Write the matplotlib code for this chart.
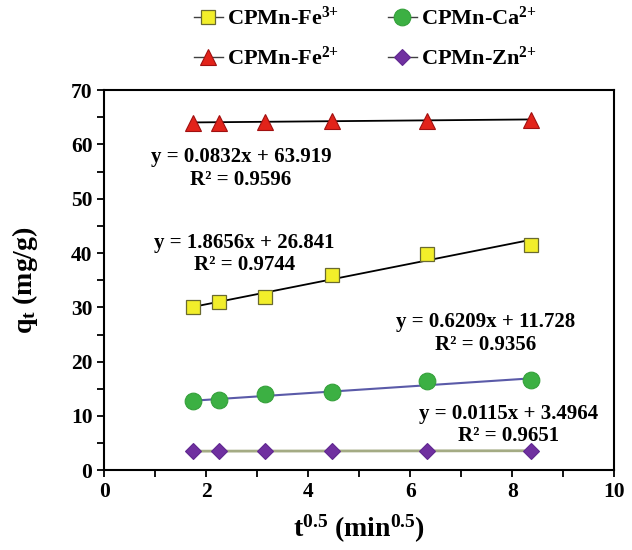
import matplotlib
matplotlib.use("Agg")
import matplotlib.pyplot as plt
from matplotlib.lines import Line2D
from matplotlib.ticker import MultipleLocator

# square root of contact time (min^0.5)
t_sqrt = [1.73, 2.24, 3.16, 4.47, 6.32, 8.37]

# adsorbed amount q_t (mg/g) for each ion
q_fe3 = [30.0, 31.0, 32.0, 36.0, 39.8, 41.5]
q_fe2 = [64.0, 64.0, 64.2, 64.3, 64.4, 64.6]
q_ca = [12.8, 13.0, 14.0, 14.4, 16.5, 16.7]
q_zn = [3.5, 3.5, 3.5, 3.5, 3.55, 3.55]

# linear fits: slope, intercept, R2 (as printed)
fit_fe3 = ("1.8656", "26.841", "0.9744")
fit_fe2 = ("0.0832", "63.919", "0.9596")
fit_ca = ("0.6209", "11.728", "0.9356")
fit_zn = ("0.0115", "3.4964", "0.9651")

# "{+}" keeps mathtext from spacing the charge sign like an operator
labels = ["CPMn-Fe$^{3{+}}$", "CPMn-Fe$^{2{+}}$", "CPMn-Ca$^{2{+}}$", "CPMn-Zn$^{2{+}}$"]

plt.rcParams["font.family"] = ["Liberation Serif", "DejaVu Serif"]
plt.rcParams["font.weight"] = "bold"
plt.rcParams["mathtext.fontset"] = "custom"
plt.rcParams["mathtext.rm"] = "Liberation Serif:bold"
plt.rcParams["mathtext.it"] = "Liberation Serif:bold"
plt.rcParams["mathtext.bf"] = "Liberation Serif:bold"

fig = plt.figure(figsize=(6.32, 5.5), dpi=100)
ax = fig.add_axes([0.165, 0.145, 0.807, 0.691])


def fit_line(fit, color, lw):
    a, b = float(fit[0]), float(fit[1])
    x0, x1 = t_sqrt[0], t_sqrt[-1]
    ax.plot([x0, x1], [a * x0 + b, a * x1 + b], color=color, lw=lw, zorder=2)


fit_line(fit_fe3, "black", 1.3)
fit_line(fit_fe2, "black", 1.3)
fit_line(fit_ca, "#5a5aa8", 1.5)
fit_line(fit_zn, "#a4ab84", 2.0)

# series markers
sq = dict(marker="s", ms=10, mfc="#f2ee2a", mec="#6a6a30", mew=0.9)
tri = dict(marker="^", ms=12, mfc="#e2231a", mec="#a01010", mew=0.8)
cir = dict(marker="o", ms=12, mfc="#3cb043", mec="#34a03a", mew=0.8)
dia = dict(marker="D", ms=8, mfc="#7030a0", mec="#602890", mew=0.8)

ax.plot(t_sqrt, q_fe3, ls="none", zorder=3, **sq)
ax.plot(t_sqrt, q_fe2, ls="none", zorder=3, **tri)
ax.plot(t_sqrt, q_ca, ls="none", zorder=3, **cir)
ax.plot(t_sqrt, q_zn, ls="none", zorder=3, **dia)

leg_handles = [Line2D([], [], color="#404040", lw=1, **m) for m in (sq, tri, cir, dia)]
fig.legend(leg_handles, labels, loc="upper center", bbox_to_anchor=(0.578, 1.025),
           ncol=2, frameon=False, fontsize=16, handlelength=1.3, handletextpad=0.2,
           columnspacing=2.2, labelspacing=0.75)


def eq_text(x, y, fit):
    ax.text(x, y, "y = %sx + %s\nR² = %s" % fit,
            ha="center", va="center", fontsize=15, fontweight="bold",
            linespacing=1.15)


eq_text(2.68, 55.6, fit_fe2)
eq_text(2.75, 39.8, fit_fe3)
eq_text(7.47, 25.2, fit_ca)
eq_text(7.92, 8.3, fit_zn)

ax.set_xlim(0, 10)
ax.set_ylim(0, 70)
ax.xaxis.set_major_locator(MultipleLocator(2))
ax.xaxis.set_minor_locator(MultipleLocator(1))
ax.yaxis.set_major_locator(MultipleLocator(10))
ax.yaxis.set_minor_locator(MultipleLocator(5))
ax.tick_params(which="both", direction="out", length=5, width=1.3, labelsize=15.5)
for s in ax.spines.values():
    s.set_linewidth(1.5)

ax.set_xlabel("t$^{0.5}$ (min$^{0.5}$)", fontsize=20, fontweight="bold", labelpad=8)
ax.set_ylabel("q$_{\\mathrm{t}}$ (mg/g)", fontsize=20, fontweight="bold", labelpad=22)

plt.savefig("out.png", dpi=100)
